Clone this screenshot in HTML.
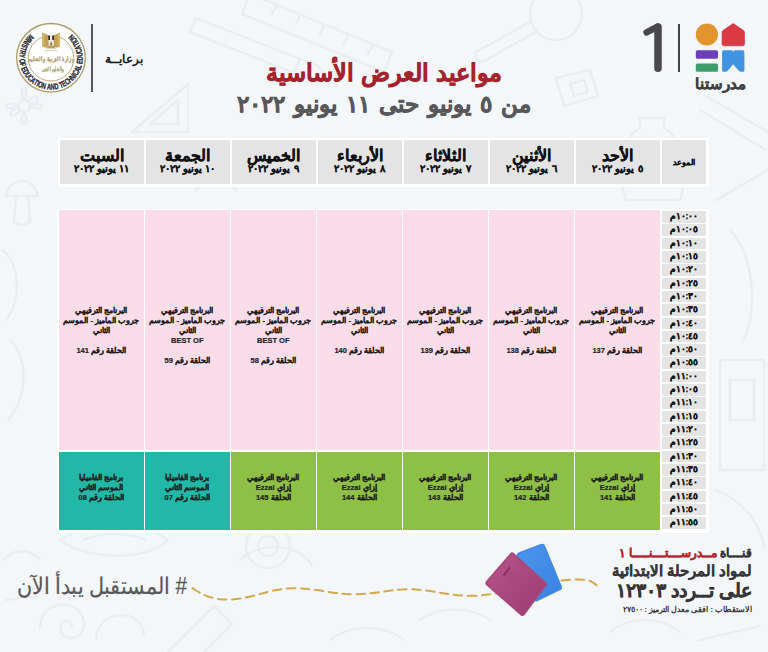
<!DOCTYPE html>
<html lang="ar">
<head>
<meta charset="utf-8">
<title>مواعيد العرض الأساسية - مدرستنا ١</title>
<style>
*{box-sizing:border-box;margin:0;padding:0}
html,body{width:768px;height:652px;overflow:hidden}
body{position:relative;background:#f4f7fa;font-family:"Liberation Sans",sans-serif;color:#1a1a1a}
.abs{position:absolute}
#bgart{left:0;top:0;width:768px;height:652px}
/* header text */
#title{left:190px;width:388px;top:56px;text-align:center;direction:rtl;font-weight:bold;font-size:24.3px;line-height:34px;color:#a6232c;-webkit-text-stroke:.55px #a6232c;white-space:nowrap}
#subtitle{left:170px;width:428px;top:88px;text-align:center;direction:rtl;font-weight:bold;font-size:23px;word-spacing:2.5px;line-height:32px;color:#58585a;-webkit-text-stroke:.5px #58585a;white-space:nowrap}
#sponsor{left:98px;width:52px;top:50px;text-align:center;direction:rtl;font-weight:bold;font-size:12px;line-height:18px;color:#161616;white-space:nowrap}
#vline1{left:91px;top:24px;width:1.5px;height:68px;background:#555}
#vline2{left:678.2px;top:23.5px;width:1.8px;height:48.5px;background:#444446}
#wordmark{left:690px;width:60px;top:73px;text-align:center;direction:rtl;font-weight:bold;font-size:15px;line-height:22px;color:#3f3f41;-webkit-text-stroke:.35px #3f3f41;white-space:nowrap}
/* header row */
#hrow{left:57.5px;top:137.8px;width:651px;height:48.8px;background:#fff}
.hc{position:absolute;top:2.2px;height:44px;width:84px;background:#e4e4e4;text-align:center;direction:rtl;white-space:nowrap}
.hc b{display:block;font-size:16px;line-height:18px;margin-top:6.6px;color:#111;-webkit-text-stroke:.3px #111}
.hc span{display:block;font-weight:bold;font-size:9.6px;line-height:10px;margin-top:-.5px;word-spacing:.6px;color:#111;-webkit-text-stroke:.25px #111}
.hc.t{width:44px;font-weight:bold;font-size:8px;line-height:46px;color:#111;-webkit-text-stroke:.25px #111}
/* body grid */
#grid{left:57px;top:208.5px;width:651.5px;height:324px;background:#fff}
.col{position:absolute;top:1.5px;width:84.5px;height:320px}
.pk,.gr,.tl{position:absolute;left:0;width:100%;text-align:center;direction:rtl;font-weight:bold;font-size:7.5px;line-height:10px;color:#1d1d1d;-webkit-text-stroke:.2px #1d1d1d;white-space:nowrap}
.pk{top:0;height:240px;background:#fbdde9;padding-top:96px}
.gr,.tl{top:242px;height:78px;background:#8dc044;padding-top:21.2px}
.tl{background:#22b8a8}
.tm{position:absolute;left:605px;width:44px;height:11.6px;background:#e4e4e4;text-align:center;direction:rtl;font-weight:bold;font-size:8.5px;line-height:11.6px;color:#111;-webkit-text-stroke:.25px #111;white-space:nowrap}
/* footer */
#hash{left:-12px;width:228px;top:569.6px;text-align:center;direction:rtl;font-size:23px;line-height:32px;color:#58585a;-webkit-text-stroke:.2px #58585a;white-space:nowrap;transform:scaleX(.9);transform-origin:50% 50%}
.fr{position:absolute;right:16px;direction:rtl;text-align:right;white-space:nowrap;font-weight:bold;color:#363638}
#f1{top:545px;font-size:12px;line-height:17px;-webkit-text-stroke:.3px}
#f1 i{font-style:normal;color:#b3232d}
#f2{top:561px;font-size:14.8px;line-height:21px;-webkit-text-stroke:.25px #363638}
#f3{top:579px;font-size:18.5px;line-height:23px;-webkit-text-stroke:.4px #363638}
#f4{top:603.5px;font-size:7.5px;line-height:11px;color:#333}
</style>
</head>
<body>
<svg id="bgart" class="abs" viewBox="0 0 768 652">
  <g fill="none" stroke="#eaeef2" stroke-width="2.6" stroke-linecap="round" stroke-linejoin="round">
    <!-- flower top-left -->
    <circle cx="24" cy="106" r="6"/>
    <path d="M24 100 C16 84 32 84 24 100 M30 106 C46 98 46 114 30 106 M24 112 C32 128 16 128 24 112 M18 106 C2 114 2 98 18 106 M28 101 C40 90 42 102 29 104 M20 111 C8 122 6 110 19 108"/>
    <!-- mushroom / bulb left -->
    <path d="M6 196 C10 176 34 176 38 196 Z M16 196 L14 222 Q22 228 30 222 L28 196"/>
    <path d="M2 250 C20 262 22 300 6 320 M10 340 C30 360 26 400 8 420"/>
    <!-- set square -->
    <path d="M132 132 L188 132 L188 84 Z M150 124 L178 124 L178 100 Z"/>
    <!-- pencil top -->
    <path d="M196 18 L318 66 L330 80 L312 80 L190 32 Z M300 59 L294 73"/>
    <!-- ruler top -->
    <path d="M250 -6 L392 52 L384 72 L242 14 Z M272 14 L276 6 M296 24 L300 16 M320 34 L324 26 M344 44 L348 36 M368 54 L372 46"/>
    <!-- magnifier -->
    <circle cx="556" cy="14" r="26"/>
    <path d="M536 32 L482 62 Q474 60 476 52 L530 22"/>
    <!-- sharpener -->
    <path d="M556 78 L590 70 L598 96 L564 106 Z M570 84 L584 80 L588 92 L574 96 Z"/>
    <!-- bottle/bell right -->
    <path d="M640 118 L664 118 L664 128 C684 140 690 170 680 200 L626 200 C616 170 620 140 640 128 Z"/>
    <path d="M700 110 L766 150 M706 96 L768 132 M716 200 L768 170"/>
    <path d="M730 230 C750 250 760 300 744 340 M720 360 L764 360 L764 470 L720 470 Z M730 380 L754 380 L754 420 L730 420 Z"/>
    <path d="M716 490 C740 500 760 520 764 548"/>
    <!-- apple -->
    <path d="M420 250 C404 230 376 244 384 270 C390 292 410 298 420 290 C430 298 450 292 456 270 C464 244 436 230 420 250 Z M420 250 C420 240 426 232 434 230"/>
    <!-- arcs between header and grid -->
    <path d="M196 190 C206 176 226 176 236 190 M250 250 C262 232 290 232 300 250"/>
    <!-- bottom-left swirls -->
    <path d="M60 540 C90 520 140 520 168 540 C150 560 90 562 60 540 Z M84 540 C100 532 130 532 146 540"/>
    <path d="M40 628 C40 600 80 596 84 622 C86 640 62 644 60 628 C60 620 70 618 72 626 M96 640 C96 610 140 606 144 634"/>
    <path d="M168 652 L214 606 L232 624 L204 652 M240 560 C262 540 300 544 312 566"/>
    <circle cx="268" cy="546" r="22"/><circle cx="268" cy="546" r="10"/>
    <!-- bottom right -->
    <path d="M610 632 C630 616 660 616 680 632 M700 640 L760 626 M420 620 C440 606 470 606 490 620 M330 640 C350 624 384 624 404 640"/>
    <path d="M4 560 C14 548 30 548 40 560 M6 600 L36 596"/>
  </g>
</svg>

<svg id="art" class="abs" style="left:0;top:0" width="768" height="652" viewBox="0 0 768 652">
  <!-- Madrasetna logo -->
  <g id="logo">
    <path d="M646.6 32.4 L657.6 26.6" fill="none" stroke="#48484a" stroke-width="6.4" stroke-linecap="round"/>
    <path d="M658 27 L658 68.3" fill="none" stroke="#48484a" stroke-width="7.5" stroke-linecap="round"/>
    <circle cx="706.9" cy="34.5" r="11.1" fill="#e2952f"/>
    <path d="M733.2 23.6 L743.6 30.6 Q744.4 31.2 744.4 32.2 L744.4 44 Q744.4 45.7 742.7 45.7 L723.8 45.7 Q722.1 45.7 722.1 44 L722.1 32.2 Q722.1 31.2 722.9 30.6 Z" fill="#d93a44" stroke="#d93a44" stroke-width="0.8" stroke-linejoin="round"/>
    <rect x="695.8" y="50.3" width="22.2" height="8.4" rx="1.6" fill="#6a3fb8"/>
    <rect x="695.8" y="63.6" width="22.2" height="8.2" rx="1.6" fill="#3d9e6c"/>
    <path d="M723.6 50.3 L731.6 50.3 Q733.2 50.6 733.2 52.2 Q733.2 50.6 734.8 50.3 L742.8 50.3 Q744.4 50.3 744.4 51.9 L744.4 70.4 Q744.4 71.9 742.9 71.8 L740 71.8 Q737.4 69.6 733.2 64.2 Q729 69.6 726.5 71.8 L723.6 71.8 Q722.1 71.9 722.1 70.4 L722.1 51.9 Q722.1 50.3 723.6 50.3 Z" fill="#4195e0"/>
  </g>
  <!-- Ministry emblem -->
  <g id="emblem">
    <circle cx="51" cy="57.8" r="34.3" fill="#fff" stroke="#ad9a68" stroke-width="1.3"/>
    <circle cx="51" cy="58.2" r="22.8" fill="none" stroke="#b6a270" stroke-width="0.9"/>
    <g font-family="Liberation Sans, sans-serif" font-weight="bold" font-size="8.4" fill="#26262e" stroke="#26262e" stroke-width="0.3" text-anchor="middle">
      <text transform="translate(28.50 35.57) rotate(134.8) scale(0.669 1)">M</text>
      <text transform="translate(26.41 37.89) rotate(129.1) scale(0.669 1)">I</text>
      <text transform="translate(24.74 40.15) rotate(124.1) scale(0.669 1)">N</text>
      <text transform="translate(23.27 42.54) rotate(119.0) scale(0.669 1)">I</text>
      <text transform="translate(22.08 44.91) rotate(114.2) scale(0.669 1)">S</text>
      <text transform="translate(20.80 48.26) rotate(107.7) scale(0.669 1)">T</text>
      <text transform="translate(19.88 51.88) rotate(100.9) scale(0.669 1)">R</text>
      <text transform="translate(19.37 55.75) rotate(93.9) scale(0.669 1)">Y</text>
      <text transform="translate(19.49 61.36) rotate(83.7) scale(0.669 1)">O</text>
      <text transform="translate(20.15 65.20) rotate(76.7) scale(0.669 1)">F</text>
      <text transform="translate(21.74 70.09) rotate(67.4) scale(0.669 1)">E</text>
      <text transform="translate(23.46 73.59) rotate(60.3) scale(0.669 1)">D</text>
      <text transform="translate(25.68 76.98) rotate(53.0) scale(0.669 1)">U</text>
      <text transform="translate(28.32 80.05) rotate(45.7) scale(0.669 1)">C</text>
      <text transform="translate(31.34 82.76) rotate(38.3) scale(0.669 1)">A</text>
      <text transform="translate(34.40 84.91) rotate(31.6) scale(0.669 1)">T</text>
      <text transform="translate(36.58 86.13) rotate(27.1) scale(0.669 1)">I</text>
      <text transform="translate(39.27 87.35) rotate(21.7) scale(0.669 1)">O</text>
      <text transform="translate(43.28 88.65) rotate(14.1) scale(0.669 1)">N</text>
      <text transform="translate(48.82 89.52) rotate(3.9) scale(0.669 1)">A</text>
      <text transform="translate(52.87 89.54) rotate(-3.4) scale(0.669 1)">N</text>
      <text transform="translate(56.89 89.05) rotate(-10.7) scale(0.669 1)">D</text>
      <text transform="translate(62.00 87.63) rotate(-20.3) scale(0.669 1)">T</text>
      <text transform="translate(65.29 86.20) rotate(-26.8) scale(0.669 1)">E</text>
      <text transform="translate(68.65 84.23) rotate(-33.8) scale(0.669 1)">C</text>
      <text transform="translate(71.87 81.76) rotate(-41.2) scale(0.669 1)">H</text>
      <text transform="translate(74.74 78.91) rotate(-48.5) scale(0.669 1)">N</text>
      <text transform="translate(76.51 76.72) rotate(-53.6) scale(0.669 1)">I</text>
      <text transform="translate(78.07 74.39) rotate(-58.6) scale(0.669 1)">C</text>
      <text transform="translate(79.95 70.80) rotate(-66.0) scale(0.669 1)">A</text>
      <text transform="translate(81.27 67.30) rotate(-72.7) scale(0.669 1)">L</text>
      <text transform="translate(82.40 62.29) rotate(-82.0) scale(0.669 1)">E</text>
      <text transform="translate(82.70 58.40) rotate(-89.1) scale(0.669 1)">D</text>
      <text transform="translate(82.50 54.35) rotate(-96.4) scale(0.669 1)">U</text>
      <text transform="translate(81.79 50.36) rotate(-103.8) scale(0.669 1)">C</text>
      <text transform="translate(80.58 46.49) rotate(-111.1) scale(0.669 1)">A</text>
      <text transform="translate(79.03 43.09) rotate(-117.9) scale(0.669 1)">T</text>
      <text transform="translate(77.78 40.93) rotate(-122.4) scale(0.669 1)">I</text>
      <text transform="translate(76.07 38.50) rotate(-127.7) scale(0.669 1)">O</text>
      <text transform="translate(73.28 35.35) rotate(-135.3) scale(0.669 1)">N</text>
    </g>
    <!-- eagle -->
    <path d="M42.2 32.6 L48.8 35.4 L48.8 45.4 L45.4 47.8 L42.2 46.6 Z M60 32.6 L53.4 35.4 L53.4 45.4 L56.8 47.8 L60 46.6 Z" fill="#c2a252"/>
    <path d="M42.2 32.6 L44.4 33.6 L44.4 47.2 L42.2 46.6 Z M60 32.6 L57.8 33.6 L57.8 47.2 L60 46.6 Z" fill="#d4b768"/>
    <path d="M48.8 35 L51.1 33.4 L53.4 35 L53.4 45.6 L48.8 45.6 Z" fill="#f4f0e6"/>
    <rect x="48.3" y="35.6" width="1.7" height="4.4" fill="#2b2420"/>
    <rect x="52.2" y="35.6" width="1.7" height="4.4" fill="#2b2420"/>
    <path d="M49.6 45.6 L51.1 40.6 L52.6 45.6 Z" fill="#8f7f52"/>
    <path d="M47.4 45.8 L54.8 45.8 L55.8 48.4 L46.4 48.4 Z" fill="#b9a05c"/>
    <path d="M45 50.6 L57.2 50.6" stroke="#c9b98c" stroke-width="0.7"/>
    <text x="51" y="60.8" text-anchor="middle" direction="rtl" font-family="Liberation Serif, serif" font-weight="bold" font-size="6.4" fill="#b8a66c" stroke="#b8a66c" stroke-width=".15" transform="translate(51 0) scale(.8 1) translate(-51 0)">وزارة التربية والتعليم</text>
    <text x="52.6" y="71" text-anchor="middle" direction="rtl" font-family="Liberation Serif, serif" font-weight="bold" font-size="6.4" fill="#b3ad74" stroke="#b3ad74" stroke-width=".15" transform="translate(52.6 0) scale(.6 1) translate(-52.6 0)">والتعليم الفنى</text>
  </g>
  <!-- dashed wave -->
  <path d="M192.5 588 C203 596 215 600 230 599.6 C252 599 268 588.6 292.5 588.3 C316 588 332 594.4 355 594.2 C378 594 388 589.4 407 589.2 C430 589 448 596 471.7 595.8 C482 595.7 490 594.6 498 593" fill="none" stroke="#d6a84a" stroke-width="2" stroke-dasharray="8.5 5.5" stroke-linecap="round"/>
  <path d="M561.5 580.6 C572 579.4 584 578.6 590 581 C594 582.6 596 584.6 598 586.8" fill="none" stroke="#d6a84a" stroke-width="2" stroke-dasharray="8.5 5.5" stroke-linecap="round"/>
  <!-- books -->
  <defs>
    <linearGradient id="gp" x1="0" y1="0" x2="1" y2="1"><stop offset="0" stop-color="#b65688"/><stop offset="1" stop-color="#9c3a72"/></linearGradient>
    <linearGradient id="gb" x1="0" y1="0" x2="1" y2="1"><stop offset="0" stop-color="#4a96ec"/><stop offset="1" stop-color="#3a82e0"/></linearGradient>
  </defs>
  <path d="M519.4 553 L541 544.8 Q543.4 543.8 544.4 546.2 L561 586.4 Q561.8 588.6 559.6 589.6 L537.4 600.4 Q535.4 601.2 534.4 599.2 L517.6 556 Q516.8 554 519.4 553 Z" fill="url(#gb)" stroke="#4089e6" stroke-width="1.6" stroke-linejoin="round"/>
  <path d="M510.6 554 Q512 552.4 513.6 553.8 L545.4 582.6 Q546.8 584 545.6 585.6 L524 614.4 Q522.6 616 521 614.6 L486.8 584.6 Q485.4 583.2 486.8 581.6 Z" fill="url(#gp)" stroke="#a8487e" stroke-width="1.6" stroke-linejoin="round"/>
  <path d="M503.6 575.6 L509.8 567.4" stroke="#8f2f66" stroke-width="1.8" fill="none"/>
  <path d="M505.8 580 L513.4 570 M508.6 582.4 L516.2 572.4" stroke="#993a70" stroke-width="0.5" fill="none"/>
</svg>

<div id="title" class="abs">مواعيد العرض الأساسية</div>
<div id="subtitle" class="abs">من ٥ يونيو حتى ١١ يونيو ٢٠٢٢</div>
<div id="sponsor" class="abs">برعايــة</div>
<div id="vline1" class="abs"></div>
<div id="vline2" class="abs"></div>
<div id="wordmark" class="abs">مدرستنا</div>

<div id="hrow" class="abs">
  <div class="hc" style="left:2px"><b>السبت</b><span>١١ يونيو ٢٠٢٢</span></div>
  <div class="hc" style="left:88px"><b>الجمعة</b><span>١٠ يونيو ٢٠٢٢</span></div>
  <div class="hc" style="left:174px"><b>الخميس</b><span>٩ يونيو ٢٠٢٢</span></div>
  <div class="hc" style="left:260px"><b>الأربعاء</b><span>٨ يونيو ٢٠٢٢</span></div>
  <div class="hc" style="left:346px"><b>الثلاثاء</b><span>٧ يونيو ٢٠٢٢</span></div>
  <div class="hc" style="left:432px"><b>الأثنين</b><span>٦ يونيو ٢٠٢٢</span></div>
  <div class="hc" style="left:518px"><b>الأحد</b><span>٥ يونيو ٢٠٢٢</span></div>
  <div class="hc t" style="left:604.5px">الموعد</div>
</div>

<div id="grid" class="abs">
  <div class="col" style="left:2px">
    <div class="pk">البرنامج الترفيهي<br>جروب الماميز - الموسم<br>الثاني<br><br>الحلقة رقم 141</div>
    <div class="tl">برنامج الفاميليا<br>الموسم الثاني<br>الحلقة رقم 08</div>
  </div>
  <div class="col" style="left:88px">
    <div class="pk">البرنامج الترفيهي<br>جروب الماميز - الموسم<br>الثاني<br>BEST OF<br><br>الحلقة رقم 59</div>
    <div class="tl">برنامج الفاميليا<br>الموسم الثاني<br>الحلقة رقم 07</div>
  </div>
  <div class="col" style="left:174px">
    <div class="pk">البرنامج الترفيهي<br>جروب الماميز - الموسم<br>الثاني<br>BEST OF<br><br>الحلقة رقم 58</div>
    <div class="gr">البرنامج الترفيهي<br>إزاي Ezzai<br>الحلقة 145</div>
  </div>
  <div class="col" style="left:260px">
    <div class="pk">البرنامج الترفيهي<br>جروب الماميز - الموسم<br>الثاني<br><br>الحلقة رقم 140</div>
    <div class="gr">البرنامج الترفيهي<br>إزاي Ezzai<br>الحلقة 144</div>
  </div>
  <div class="col" style="left:346px">
    <div class="pk">البرنامج الترفيهي<br>جروب الماميز - الموسم<br>الثاني<br><br>الحلقة رقم 139</div>
    <div class="gr">البرنامج الترفيهي<br>إزاي Ezzai<br>الحلقة 143</div>
  </div>
  <div class="col" style="left:432px">
    <div class="pk">البرنامج الترفيهي<br>جروب الماميز - الموسم<br>الثاني<br><br>الحلقة رقم 138</div>
    <div class="gr">البرنامج الترفيهي<br>إزاي Ezzai<br>الحلقة 142</div>
  </div>
  <div class="col" style="left:518px">
    <div class="pk">البرنامج الترفيهي<br>جروب الماميز - الموسم<br>الثاني<br><br>الحلقة رقم 137</div>
    <div class="gr">البرنامج الترفيهي<br>إزاي Ezzai<br>الحلقة 141</div>
  </div>
  <div class="tm" style="top:2.50px">١٠:٠٠م</div>
  <div class="tm" style="top:15.81px">١٠:٠٥م</div>
  <div class="tm" style="top:29.12px">١٠:١٠م</div>
  <div class="tm" style="top:42.44px">١٠:١٥م</div>
  <div class="tm" style="top:55.75px">١٠:٢٠م</div>
  <div class="tm" style="top:69.06px">١٠:٢٥م</div>
  <div class="tm" style="top:82.38px">١٠:٣٠م</div>
  <div class="tm" style="top:95.69px">١٠:٣٥م</div>
  <div class="tm" style="top:109.00px">١٠:٤٠م</div>
  <div class="tm" style="top:122.31px">١٠:٤٥م</div>
  <div class="tm" style="top:135.62px">١٠:٥٠م</div>
  <div class="tm" style="top:148.94px">١٠:٥٥م</div>
  <div class="tm" style="top:162.25px">١١:٠٠م</div>
  <div class="tm" style="top:175.56px">١١:٠٥م</div>
  <div class="tm" style="top:188.88px">١١:١٠م</div>
  <div class="tm" style="top:202.19px">١١:١٥م</div>
  <div class="tm" style="top:215.50px">١١:٢٠م</div>
  <div class="tm" style="top:228.81px">١١:٢٥م</div>
  <div class="tm" style="top:242.12px">١١:٣٠م</div>
  <div class="tm" style="top:255.44px">١١:٣٥م</div>
  <div class="tm" style="top:268.75px">١١:٤٠م</div>
  <div class="tm" style="top:282.06px">١١:٤٥م</div>
  <div class="tm" style="top:295.38px">١١:٥٠م</div>
  <div class="tm" style="top:308.69px">١١:٥٥م</div>
</div>

<div id="hash" class="abs"># المستقبل يبدأ الآن</div>
<div id="f1" class="fr">قنـــاة <i>مــدرســـتـــنــــا ١</i></div>
<div id="f2" class="fr">لمواد المرحلة الابتدائية</div>
<div id="f3" class="fr">على تــردد ١٢٣٠٣</div>
<div id="f4" class="fr">الاستقطاب : افقى معدل الترميز : ٢٧٥٠٠</div>
</body>
</html>
